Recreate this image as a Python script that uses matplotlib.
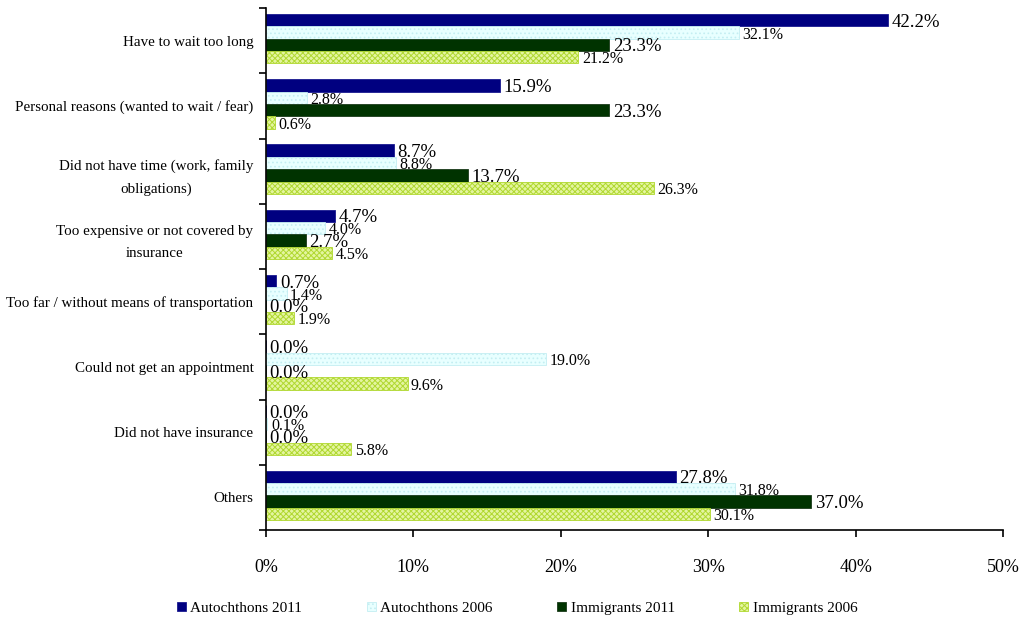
import matplotlib
matplotlib.use("Agg")
import matplotlib.pyplot as plt
import numpy as np
from matplotlib.patches import Patch

categories = [
    "Have to wait too long",
    "Personal reasons (wanted to wait / fear)",
    "Did not have time (work, family\nobligations)",
    "Too expensive or not covered by\ninsurance",
    "Too far / without means of transportation",
    "Could not get an appointment",
    "Did not have insurance",
    "Others",
]
series_names = ["Autochthons 2011", "Autochthons 2006", "Immigrants 2011", "Immigrants 2006"]
autochthons_2011 = [42.2, 15.9, 8.7, 4.7, 0.7, 0.0, 0.0, 27.8]
autochthons_2006 = [32.1, 2.8, 8.8, 4.0, 1.4, 19.0, 0.1, 31.8]
immigrants_2011 = [23.3, 23.3, 13.7, 2.7, 0.0, 0.0, 0.0, 37.0]
immigrants_2006 = [21.2, 0.6, 26.3, 4.5, 1.9, 9.6, 5.8, 30.1]
x_ticks = [0, 10, 20, 30, 40, 50]
x_tick_labels = ["0%", "10%", "20%", "30%", "40%", "50%"]

plt.rcParams['font.family'] = ['Liberation Serif', 'DejaVu Serif']
plt.rcParams['hatch.linewidth'] = 0.7

styles = [
    dict(facecolor="#000080", edgecolor="#1a1a90", hatch=None),
    dict(facecolor="#e8ffff", edgecolor="#c4eef2", hatch="...."),
    dict(facecolor="#003300", edgecolor="#1a3a1a", hatch=None),
    dict(facecolor="#e4f5a0", edgecolor="#b0d830", hatch="xxxxxx"),
]
label_sizes = [13.5, 11.5, 13.5, 11.5]

fig = plt.figure(figsize=(10.24, 6.22), dpi=100)
ax = fig.add_axes([266/1024, 1-530/622, (1003-266)/1024, (530-8)/622])

data = [autochthons_2011, autochthons_2006, immigrants_2011, immigrants_2006]
n = len(categories)
y = np.arange(n)
h = 0.19
offsets = [-1.5*h, -0.5*h, 0.5*h, 1.5*h]
for k, (vals, st) in enumerate(zip(data, styles)):
    ax.barh(y + offsets[k] - 0.03, vals, height=h, facecolor=st["facecolor"],
            edgecolor=st["edgecolor"], hatch=st["hatch"], linewidth=0.6, zorder=2)
    for i, v in enumerate(vals):
        ax.annotate(f"{v:.1f}%", xy=(v, y[i] + offsets[k] - 0.03), xytext=(2.5, -1.5),
                    textcoords="offset points", va="center", ha="left",
                    fontsize=label_sizes[k], color="black", zorder=3)

ax.set_xlim(0, 50)
ax.set_ylim(n - 0.5, -0.5)
ax.set_xticks(x_ticks)
ax.set_xticklabels(x_tick_labels, fontsize=13)
ax.tick_params(axis="x", direction="out", length=5, width=1.2, pad=16)

ax.set_yticks(np.arange(n + 1) - 0.5)
ax.set_yticklabels([])
ax.tick_params(axis="y", which="major", direction="out", length=5, width=1.2)
ax.set_yticks(y, minor=True)
ax.set_yticklabels(categories, minor=True, fontsize=10.8, multialignment="center",
                   linespacing=1.9)
ax.tick_params(axis="y", which="minor", length=0, pad=9)

for s in ["top", "right"]:
    ax.spines[s].set_visible(False)
for s in ["left", "bottom"]:
    ax.spines[s].set_linewidth(1.2)

handles = [Patch(facecolor=st["facecolor"], edgecolor=st["edgecolor"], hatch=st["hatch"], linewidth=0.6)
           for st in styles]
fig.legend(handles, series_names, loc="center", bbox_to_anchor=(0.505, 0.022), ncol=4,
           frameon=False, fontsize=11, handlelength=0.6, handleheight=0.6,
           handletextpad=0.3, columnspacing=4.2)

fig.savefig("out.png", dpi=100)
